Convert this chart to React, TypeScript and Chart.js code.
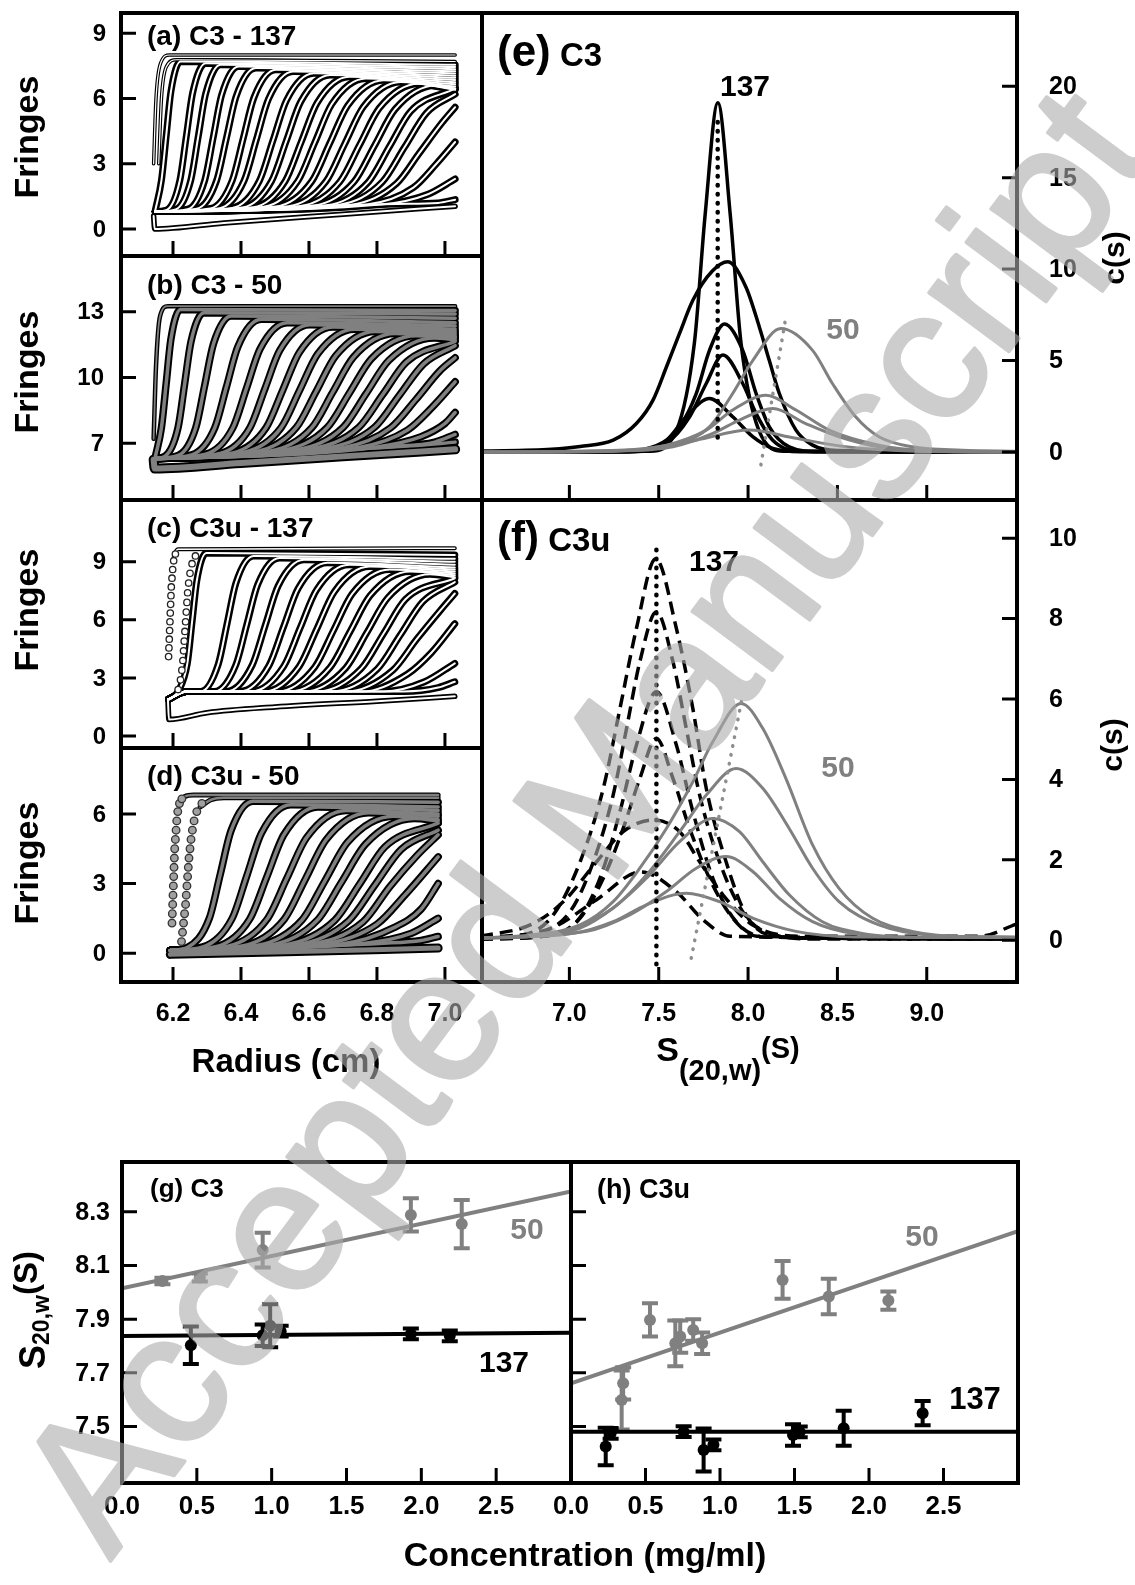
import React, { useEffect, useRef } from "react";
import { Chart, registerables } from "chart.js";

Chart.register(...registerables);

type Pt = [number, number];

const PAGE_W = 1135;
const PAGE_H = 1585;
const FONT = "'Liberation Sans', Arial, Helvetica, sans-serif";
const BLACK = "#000000";
const GREY = "#808080";
const DOT_GREY = "#8e8e8e";

// ---------------- tick values ----------------
const RADIUS_TICKS = [6.2, 6.4, 6.6, 6.8, 7.0];
const FRINGE_TICKS_A = [0, 3, 6, 9];
const FRINGE_TICKS_B = [7, 10, 13];
const FRINGE_TICKS_C = [0, 3, 6, 9];
const FRINGE_TICKS_D = [0, 3, 6];
const SED_TICKS = [7.0, 7.5, 8.0, 8.5, 9.0];
const CS_TICKS_E = [0, 5, 10, 15, 20];
const CS_TICKS_F = [0, 2, 4, 6, 8, 10];
const CONC_TICKS = [0.5, 1.0, 1.5, 2.0, 2.5];
const CONC_LABELS = [0.0, 0.5, 1.0, 1.5, 2.0, 2.5];
const S20W_TICKS = [7.5, 7.7, 7.9, 8.1, 8.3];

// ---------------- (a) C3 - 137 : fringes vs radius ----------------
const A_BASELINE: Pt[] = [[6.143, 0.6], [6.146, 0.0], [6.35, 0.28], [6.7, 0.68], [7.03, 1.05]];
const A_EARLY: Pt[][] = [
  [[6.143, 3.0], [6.15, 6.0], [6.163, 7.6], [6.19, 8.0], [7.03, 8.0]],
  [[6.158, 3.0], [6.166, 6.0], [6.18, 7.45], [6.21, 7.78], [7.03, 7.7]],
];
const A_SCANS: Pt[][] = [
  [[6.148, 0.87], [6.166, 2.24], [6.18, 4.29], [6.194, 6.33], [6.222, 7.7], [7.03, 7.55]],
  [[6.148, 0.8], [6.182, 0.88], [6.22, 2.23], [6.239, 4.25], [6.258, 6.27], [6.296, 7.62], [7.03, 7.45]],
  [[6.148, 0.8], [6.208, 0.9], [6.252, 2.23], [6.274, 4.23], [6.296, 6.22], [6.34, 7.55], [7.03, 7.35]],
  [[6.148, 0.8], [6.243, 0.91], [6.293, 2.22], [6.318, 4.19], [6.343, 6.16], [6.393, 7.47], [7.03, 7.25]],
  [[6.148, 0.8], [6.27, 0.93], [6.328, 2.22], [6.357, 4.17], [6.386, 6.11], [6.444, 7.4], [7.03, 7.15]],
  [[6.148, 0.8], [6.31, 0.94], [6.374, 2.22], [6.406, 4.13], [6.438, 6.04], [6.502, 7.32], [7.03, 7.05]],
  [[6.148, 0.8], [6.337, 0.96], [6.409, 2.22], [6.445, 4.1], [6.481, 5.98], [6.553, 7.24], [7.03, 6.95]],
  [[6.148, 0.8], [6.374, 0.97], [6.454, 2.21], [6.494, 4.07], [6.534, 5.92], [6.614, 7.16], [7.03, 6.85]],
  [[6.148, 0.8], [6.404, 0.99], [6.49, 2.21], [6.533, 4.04], [6.576, 5.86], [6.662, 7.08], [7.03, 6.75]],
  [[6.148, 0.8], [6.436, 1.0], [6.53, 2.2], [6.577, 4.0], [6.624, 5.8], [6.718, 7.0], [7.03, 6.65]],
  [[6.148, 0.8], [6.467, 1.02], [6.567, 2.2], [6.617, 3.97], [6.667, 5.74], [6.767, 6.92], [7.03, 6.55]],
  [[6.148, 0.8], [6.502, 1.03], [6.608, 2.19], [6.661, 3.94], [6.714, 5.68], [6.82, 6.84], [7.03, 6.45]],
  [[6.148, 0.8], [6.54, 1.05], [6.65, 2.19], [6.705, 3.91], [6.76, 5.62], [6.87, 6.76], [7.03, 6.4]],
  [[6.148, 0.8], [6.575, 1.06], [6.691, 2.18], [6.749, 3.87], [6.807, 5.56], [6.923, 6.68], [7.03, 6.45]],
  [[6.148, 0.8], [6.613, 1.08], [6.733, 2.18], [6.793, 3.84], [6.853, 5.5], [6.973, 6.6], [7.03, 6.45]],
  [[6.148, 0.8], [6.651, 1.09], [6.775, 2.17], [6.837, 3.8], [6.899, 5.41], [7.03, 6.45]],
  [[6.148, 0.8], [6.686, 1.11], [6.816, 2.17], [6.881, 3.76], [6.946, 5.34], [7.03, 6.2]],
  [[6.148, 0.8], [6.724, 1.12], [6.858, 2.1], [6.925, 3.5], [6.992, 4.9], [7.03, 5.6]],
  [[6.148, 0.8], [6.77, 1.13], [6.907, 1.9], [6.975, 3.0], [7.03, 4.0]],
  [[6.148, 0.8], [6.82, 1.14], [6.95, 1.6], [7.03, 2.3]],
  [[6.148, 0.8], [6.86, 1.15], [6.98, 1.2], [7.03, 1.35]],
];

// ---------------- (b) C3 - 50 ----------------
const B_BASELINE: Pt[] = [[6.143, 6.25], [6.146, 5.85], [6.4, 6.1], [6.7, 6.4], [7.03, 6.72]];
const B_EARLY: Pt[][] = [
  [[6.143, 7.2], [6.15, 10.5], [6.162, 12.8], [6.185, 13.25], [7.03, 13.25]],
];
const B_SCANS: Pt[][] = [
  [[6.148, 6.38], [6.166, 7.72], [6.18, 9.74], [6.194, 11.76], [6.222, 13.1], [7.03, 13.05]],
  [[6.148, 6.3], [6.177, 6.41], [6.215, 7.72], [6.234, 9.68], [6.253, 11.64], [6.291, 12.95], [7.03, 12.9]],
  [[6.148, 6.3], [6.215, 6.44], [6.267, 7.71], [6.293, 9.62], [6.319, 11.53], [6.371, 12.8], [7.03, 12.7]],
  [[6.148, 6.3], [6.255, 6.47], [6.323, 7.71], [6.357, 9.56], [6.391, 11.41], [6.459, 12.65], [7.03, 12.5]],
  [[6.148, 6.3], [6.296, 6.5], [6.376, 7.7], [6.416, 9.5], [6.456, 11.3], [6.536, 12.5], [7.03, 12.35]],
  [[6.148, 6.3], [6.338, 6.53], [6.426, 7.7], [6.47, 9.47], [6.514, 11.23], [6.602, 12.4], [7.03, 12.2]],
  [[6.148, 6.3], [6.376, 6.56], [6.474, 7.71], [6.523, 9.43], [6.572, 11.15], [6.67, 12.3], [7.03, 12.1]],
  [[6.148, 6.3], [6.41, 6.59], [6.518, 7.71], [6.572, 9.4], [6.626, 11.08], [6.734, 12.2], [7.03, 12.0]],
  [[6.148, 6.3], [6.447, 6.62], [6.563, 7.72], [6.621, 9.36], [6.679, 11.0], [6.795, 12.1], [7.03, 11.9]],
  [[6.148, 6.3], [6.487, 6.65], [6.609, 7.72], [6.67, 9.33], [6.731, 10.93], [6.853, 12.0], [7.03, 11.85]],
  [[6.148, 6.3], [6.524, 6.68], [6.654, 7.72], [6.719, 9.29], [6.784, 10.86], [6.914, 11.9], [7.03, 11.8]],
  [[6.148, 6.3], [6.567, 6.71], [6.701, 7.73], [6.768, 9.26], [6.835, 10.78], [6.969, 11.8], [7.03, 11.72]],
  [[6.148, 6.3], [6.607, 6.74], [6.747, 7.73], [6.817, 9.22], [6.887, 10.71], [7.03, 11.65]],
  [[6.148, 6.3], [6.65, 6.77], [6.794, 7.74], [6.866, 9.19], [6.938, 10.63], [7.03, 11.45]],
  [[6.148, 6.3], [6.7, 6.8], [6.84, 7.7], [6.915, 9.0], [6.985, 10.3], [7.03, 10.9]],
  [[6.148, 6.3], [6.75, 6.82], [6.89, 7.6], [6.96, 8.6], [7.03, 9.8]],
  [[6.148, 6.3], [6.8, 6.83], [6.93, 7.3], [7.0, 7.9], [7.03, 8.4]],
  [[6.148, 6.3], [6.85, 6.85], [6.97, 7.05], [7.03, 7.4]],
  [[6.148, 6.3], [6.9, 6.88], [7.03, 7.05]],
];

// ---------------- (c) C3u - 137 ----------------
const C_BASELINE: Pt[] = [[6.185, 1.9], [6.188, 0.85], [6.3, 1.2], [6.5, 1.5], [6.8, 1.8], [7.029, 2.05]];
const C_EARLY: Pt[][] = [
  [[6.2, 9.1], [6.206, 9.45], [6.215, 9.65], [7.029, 9.7]],
];
const C_EARLY_POINTS: Pt[] = [
  [6.187, 4.1], [6.188, 4.55], [6.189, 5.0], [6.19, 5.45], [6.191, 5.9], [6.192, 6.35], [6.193, 6.8], [6.194, 7.25], [6.195, 7.7], [6.197, 8.15], [6.199, 8.6], [6.202, 9.05], [6.207, 9.4],
  [6.215, 2.4], [6.222, 2.9], [6.226, 3.4], [6.229, 3.9], [6.231, 4.4], [6.233, 4.9], [6.235, 5.4], [6.237, 5.9], [6.239, 6.4], [6.241, 6.9], [6.243, 7.4], [6.246, 7.9], [6.25, 8.4], [6.256, 8.9], [6.266, 9.3],
];
const C_SCANS: Pt[][] = [
  [[6.187, 1.9], [6.215, 2.3], [6.242, 3.73], [6.256, 5.88], [6.27, 8.02], [6.298, 9.45], [7.029, 9.35]],
  [[6.187, 1.9], [6.24, 2.3], [6.281, 2.3], [6.333, 3.7], [6.359, 5.8], [6.385, 7.9], [6.437, 9.3], [7.029, 9.15]],
  [[6.187, 1.9], [6.24, 2.3], [6.321, 2.3], [6.385, 3.68], [6.417, 5.75], [6.449, 7.82], [6.513, 9.2], [7.029, 9.0]],
  [[6.187, 1.9], [6.24, 2.3], [6.357, 2.3], [6.433, 3.66], [6.471, 5.7], [6.509, 7.74], [6.585, 9.1], [7.029, 8.85]],
  [[6.187, 1.9], [6.24, 2.3], [6.396, 2.3], [6.482, 3.63], [6.525, 5.63], [6.568, 7.62], [6.654, 8.95], [7.029, 8.7]],
  [[6.187, 1.9], [6.24, 2.3], [6.43, 2.3], [6.526, 3.61], [6.574, 5.58], [6.622, 7.54], [6.718, 8.85], [7.029, 8.6]],
  [[6.187, 1.9], [6.24, 2.3], [6.467, 2.3], [6.571, 3.59], [6.623, 5.53], [6.675, 7.46], [6.779, 8.75], [7.029, 8.5]],
  [[6.187, 1.9], [6.24, 2.3], [6.507, 2.3], [6.617, 3.56], [6.672, 5.45], [6.727, 7.34], [6.837, 8.6], [7.029, 8.4]],
  [[6.187, 1.9], [6.24, 2.3], [6.544, 2.3], [6.662, 3.54], [6.721, 5.4], [6.78, 7.26], [6.898, 8.5], [7.029, 8.3]],
  [[6.187, 1.9], [6.24, 2.3], [6.584, 2.3], [6.708, 3.51], [6.77, 5.33], [6.832, 7.14], [6.956, 8.35], [7.029, 8.2]],
  [[6.187, 1.9], [6.24, 2.3], [6.624, 2.3], [6.754, 3.49], [6.819, 5.28], [6.884, 7.06], [7.029, 8.15]],
  [[6.187, 1.9], [6.24, 2.3], [6.667, 2.3], [6.801, 3.46], [6.868, 5.2], [6.935, 6.94], [7.029, 7.95]],
  [[6.187, 1.9], [6.24, 2.3], [6.707, 2.3], [6.847, 3.4], [6.917, 5.0], [6.987, 6.5], [7.029, 7.36]],
  [[6.187, 1.9], [6.24, 2.3], [6.76, 2.3], [6.89, 3.2], [6.96, 4.3], [7.029, 5.8]],
  [[6.187, 1.9], [6.24, 2.3], [6.82, 2.3], [6.94, 2.8], [7.029, 3.75]],
  [[6.187, 1.9], [6.24, 2.3], [6.88, 2.3], [6.98, 2.5], [7.029, 2.8]],
];

// ---------------- (d) C3u - 50 ----------------
const D_BASELINE: Pt[] = [[6.192, -0.05], [6.5, 0.05], [6.98, 0.22]];
const D_EARLY: Pt[][] = [
  [[6.222, 6.5], [6.235, 6.75], [6.26, 6.82], [6.98, 6.82]],
  [[6.28, 6.3], [6.31, 6.6], [6.35, 6.7], [6.98, 6.7]],
];
const D_EARLY_POINTS: Pt[] = [
  [6.197, 1.3], [6.198, 1.7], [6.199, 2.1], [6.2, 2.5], [6.201, 2.9], [6.202, 3.3], [6.203, 3.7], [6.204, 4.1], [6.205, 4.5], [6.207, 4.9], [6.209, 5.3], [6.211, 5.7], [6.214, 6.1], [6.219, 6.45], [6.226, 6.65],
  [6.225, 0.5], [6.228, 0.9], [6.231, 1.3], [6.234, 1.7], [6.237, 2.1], [6.239, 2.5], [6.241, 2.9], [6.243, 3.3], [6.245, 3.7], [6.247, 4.1], [6.25, 4.5], [6.253, 4.9], [6.257, 5.3], [6.262, 5.7], [6.27, 6.1], [6.285, 6.45],
];
const D_SCANS: Pt[][] = [
  [[6.192, 0.12], [6.243, 0.25], [6.307, 1.51], [6.339, 3.4], [6.371, 5.29], [6.435, 6.55], [6.98, 6.5]],
  [[6.192, 0.12], [6.288, 0.27], [6.374, 1.5], [6.417, 3.33], [6.46, 5.17], [6.546, 6.4], [6.98, 6.3]],
  [[6.192, 0.12], [6.326, 0.28], [6.426, 1.48], [6.476, 3.29], [6.526, 5.1], [6.626, 6.3], [6.98, 6.15]],
  [[6.192, 0.12], [6.361, 0.3], [6.477, 1.47], [6.535, 3.23], [6.593, 4.98], [6.709, 6.15], [6.98, 6.0]],
  [[6.192, 0.12], [6.403, 0.31], [6.527, 1.46], [6.589, 3.18], [6.651, 4.9], [6.775, 6.05], [6.98, 5.9]],
  [[6.192, 0.12], [6.446, 0.33], [6.58, 1.44], [6.647, 3.12], [6.714, 4.79], [6.848, 5.9], [6.98, 5.75]],
  [[6.192, 0.12], [6.483, 0.34], [6.625, 1.43], [6.696, 3.07], [6.767, 4.71], [6.909, 5.8], [6.98, 5.7]],
  [[6.192, 0.12], [6.528, 0.36], [6.676, 1.42], [6.75, 3.0], [6.824, 4.59], [6.98, 5.6]],
  [[6.192, 0.12], [6.563, 0.37], [6.717, 1.4], [6.794, 2.94], [6.871, 4.47], [6.98, 5.3]],
  [[6.192, 0.12], [6.601, 0.39], [6.759, 1.35], [6.838, 2.87], [6.917, 4.2], [6.98, 5.1]],
  [[6.192, 0.12], [6.64, 0.4], [6.8, 1.25], [6.882, 2.5], [6.98, 4.15]],
  [[6.192, 0.12], [6.7, 0.41], [6.85, 1.1], [6.93, 1.9], [6.98, 3.0]],
  [[6.192, 0.12], [6.76, 0.42], [6.9, 0.85], [6.98, 1.5]],
  [[6.192, 0.12], [6.82, 0.43], [6.93, 0.55], [6.98, 0.72]],
];

// ---------------- (e) C3 c(s) ----------------
const E_C3_137: Pt[][] = [
  [[6.5, 0], [7.45, 0.05], [7.6, 1.2], [7.7, 6], [7.76, 13], [7.831, 19.1], [7.9, 13], [7.96, 6], [8.06, 1.2], [8.2, 0.05], [9.5, 0]],
  [[6.5, 0.05], [6.9, 0.15], [7.06, 0.3], [7.245, 0.65], [7.375, 1.56], [7.468, 2.84], [7.543, 4.65], [7.617, 6.5], [7.691, 8.3], [7.8, 9.9], [7.887, 10.4], [7.989, 9.0], [8.063, 6.84], [8.119, 5.0], [8.175, 3.2], [8.268, 1.2], [8.361, 0.38], [8.5, 0.08], [9.5, 0.02]],
  [[6.5, 0], [7.3, 0.02], [7.506, 0.38], [7.617, 1.38], [7.71, 3.2], [7.784, 5.56], [7.868, 7.0], [7.97, 5.56], [8.045, 3.2], [8.119, 1.38], [8.23, 0.29], [8.4, 0.02], [9.5, 0]],
  [[6.5, 0], [7.35, 0.02], [7.543, 0.47], [7.673, 1.93], [7.766, 3.75], [7.859, 5.3], [7.97, 3.75], [8.045, 2.1], [8.138, 0.65], [8.3, 0.05], [9.5, 0]],
  [[6.5, 0], [7.3, 0.02], [7.394, 0.1], [7.543, 0.65], [7.654, 1.93], [7.784, 2.93], [7.914, 1.93], [8.026, 0.84], [8.138, 0.2], [8.3, 0.02], [9.5, 0]],
];
const E_C3_50: Pt[][] = [
  [[6.5, 0], [7.0, 0.03], [7.338, 0.1], [7.617, 0.47], [7.784, 1.38], [7.914, 3.2], [8.026, 5.0], [8.184, 6.75], [8.361, 5.56], [8.472, 3.75], [8.602, 1.93], [8.732, 0.84], [8.918, 0.29], [9.197, 0.1], [9.5, 0.05]],
  [[6.5, 0], [7.2, 0.05], [7.543, 0.38], [7.766, 1.2], [7.914, 2.3], [8.1, 3.1], [8.268, 2.3], [8.454, 1.2], [8.732, 0.38], [9.0, 0.08], [9.5, 0]],
  [[6.5, 0], [7.25, 0.05], [7.58, 0.29], [7.803, 1.02], [7.952, 1.75], [8.138, 2.38], [8.323, 1.56], [8.509, 0.84], [8.732, 0.29], [9.0, 0.06], [9.5, 0]],
  [[6.5, 0], [7.1, 0.05], [7.431, 0.2], [7.71, 0.65], [8.007, 1.2], [8.268, 0.75], [8.546, 0.29], [8.9, 0.06], [9.5, 0]],
];
const E_PEAK_137: Pt[] = [[7.83, 0.8], [7.83, 18.2]];
const E_PEAK_50: Pt[] = [[8.072, -0.7], [8.212, 7.4]];

// ---------------- (f) C3u c(s) ----------------
const F_C3U_137: Pt[][] = [
  [[6.5, 0.05], [6.743, 0.13], [6.91, 0.63], [7.06, 1.95], [7.19, 3.78], [7.283, 5.76], [7.375, 7.75], [7.483, 9.49], [7.599, 7.75], [7.691, 5.76], [7.766, 3.78], [7.877, 1.95], [7.989, 0.63], [8.119, 0.13], [8.4, 0.05], [9.5, 0.05]],
  [[6.5, 0.03], [6.8, 0.15], [7.004, 0.71], [7.134, 1.95], [7.245, 3.61], [7.32, 5.27], [7.394, 6.92], [7.487, 8.17], [7.58, 6.92], [7.654, 5.27], [7.729, 3.61], [7.84, 1.95], [7.97, 0.71], [8.1, 0.2], [8.4, 0.03], [9.5, 0.03]],
  [[6.5, 0.03], [6.85, 0.1], [7.041, 0.46], [7.171, 1.54], [7.283, 3.2], [7.375, 4.85], [7.487, 6.18], [7.599, 4.85], [7.691, 3.2], [7.803, 1.54], [7.933, 0.46], [8.1, 0.08], [9.5, 0.03]],
  [[6.5, 0.03], [6.9, 0.12], [7.06, 0.55], [7.19, 1.54], [7.301, 2.78], [7.394, 4.02], [7.487, 5.02], [7.58, 4.02], [7.673, 2.78], [7.784, 1.54], [7.914, 0.55], [8.05, 0.1], [9.5, 0.03]],
  [[6.5, 0.1], [6.781, 0.38], [6.967, 0.96], [7.152, 1.95], [7.301, 2.7], [7.468, 2.99], [7.617, 2.7], [7.729, 1.95], [7.859, 1.13], [8.026, 0.38], [8.3, 0.1], [9.3, 0.1], [9.5, 0.4]],
  [[6.5, 0.05], [6.9, 0.3], [7.15, 1.0], [7.4, 1.7], [7.6, 1.2], [7.75, 0.5], [7.9, 0.1], [9.5, 0.03]],
];
const F_C3U_50: Pt[][] = [
  [[6.5, 0.05], [6.781, 0.13], [7.06, 0.38], [7.245, 0.96], [7.394, 1.79], [7.543, 2.78], [7.691, 3.94], [7.803, 4.94], [7.961, 5.89], [8.082, 5.27], [8.212, 4.02], [8.361, 2.37], [8.509, 1.29], [8.695, 0.55], [8.918, 0.22], [9.197, 0.09], [9.5, 0.08]],
  [[6.5, 0.05], [6.8, 0.1], [7.022, 0.3], [7.245, 0.8], [7.431, 1.62], [7.617, 2.7], [7.766, 3.61], [7.933, 4.27], [8.082, 3.78], [8.23, 2.78], [8.361, 1.79], [8.509, 0.96], [8.732, 0.38], [9.01, 0.13], [9.5, 0.07]],
  [[6.5, 0.05], [6.85, 0.12], [7.06, 0.3], [7.245, 0.8], [7.431, 1.54], [7.617, 2.45], [7.803, 3.03], [7.952, 2.7], [8.082, 1.95], [8.23, 1.13], [8.416, 0.46], [8.639, 0.17], [9.0, 0.07], [9.5, 0.07]],
  [[6.5, 0.05], [7.097, 0.22], [7.338, 0.63], [7.543, 1.21], [7.71, 1.79], [7.877, 2.08], [8.026, 1.71], [8.175, 1.04], [8.361, 0.46], [8.584, 0.17], [9.0, 0.07], [9.5, 0.07]],
  [[6.5, 0.05], [7.022, 0.17], [7.245, 0.46], [7.431, 0.88], [7.654, 1.17], [7.84, 0.96], [8.026, 0.55], [8.268, 0.22], [8.6, 0.08], [9.5, 0.07]],
];
const F_PEAK_137: Pt[] = [[7.487, -0.6], [7.487, 9.85]];
const F_PEAK_50: Pt[] = [[7.682, -0.45], [7.97, 6.1]];

// ---------------- (g) C3 : s20,w vs concentration ----------------
const G_C3_137_CONC = [0.46, 0.94, 0.99, 1.06, 1.93, 2.19];
const G_C3_137_S = [7.803, 7.84, 7.875, 7.855, 7.845, 7.838];
const G_C3_137_ERR = [0.07, 0.04, 0.08, 0.02, 0.02, 0.02];
const G_C3_137_FIT: Pt[] = [[0, 7.837], [3.0, 7.849]];
const G_C3_50_CONC = [0.27, 0.52, 0.94, 1.93, 2.27];
const G_C3_50_S = [8.042, 8.055, 8.157, 8.288, 8.254];
const G_C3_50_ERR = [0.012, 0.015, 0.065, 0.062, 0.09];
const G_C3_50_FIT: Pt[] = [[0, 8.015], [3.0, 8.375]];

// ---------------- (h) C3u ----------------
const H_C3U_137_CONC = [0.233, 0.266, 0.756, 0.89, 0.956, 1.49, 1.535, 1.83, 2.36];
const H_C3U_137_S = [7.426, 7.475, 7.481, 7.413, 7.432, 7.469, 7.48, 7.494, 7.55];
const H_C3U_137_ERR = [0.07, 0.02, 0.02, 0.08, 0.02, 0.04, 0.02, 0.065, 0.045];
const H_C3U_137_FIT: Pt[] = [[0, 7.481], [3.0, 7.481]];
const H_C3U_50_CONC = [0.34, 0.35, 0.53, 0.7, 0.733, 0.82, 0.88, 1.42, 1.73, 2.13];
const H_C3U_50_S = [7.599, 7.661, 7.897, 7.81, 7.835, 7.86, 7.81, 8.046, 7.984, 7.969];
const H_C3U_50_ERR = [0.11, 0.06, 0.062, 0.085, 0.06, 0.04, 0.04, 0.07, 0.066, 0.034];
const H_C3U_50_FIT: Pt[] = [[0, 7.661], [3.0, 8.228]];

// ================= helpers =================
type Box = { l: number; t: number; r: number; b: number };
interface PanelSpec {
  box: Box;
  x: [number, number];
  y: [number, number];
  datasets: any[];
  before?: (c: Chart) => void;
  after: (c: Chart) => void;
}

const toXY = (pts: Pt[]) => pts.map(([x, y]) => ({ x, y }));

function lineDs(pts: Pt[], color: string, width: number, order: number, extra: any = {}) {
  return {
    data: toXY(pts),
    showLine: true,
    borderColor: color,
    backgroundColor: color,
    borderWidth: width,
    pointRadius: 0,
    pointHoverRadius: 0,
    cubicInterpolationMode: "monotone",
    fill: false,
    order,
    borderCapStyle: "round",
    borderJoinStyle: "round",
    ...extra,
  };
}

function tubes(curves: Pt[][], outer: string, ow: number, inner: string, iw: number) {
  const res: any[] = [];
  curves.forEach((c) => {
    res.push(lineDs(c, outer, ow, 3));
    res.push(lineDs(c, inner, iw, 2));
  });
  return res;
}

function circlesDs(pts: Pt[], fillColor: string, edge: string, r: number) {
  return {
    data: toXY(pts),
    showLine: false,
    pointRadius: r,
    pointHoverRadius: r,
    pointBackgroundColor: fillColor,
    pointBorderColor: edge,
    pointBorderWidth: 1.3,
    order: 0,
  };
}

function pointsDs(xs: number[], ys: number[], errs: number[], color: string, r: number) {
  return {
    data: xs.map((x, i) => ({ x, y: ys[i] })),
    errs,
    showLine: false,
    pointRadius: r,
    pointHoverRadius: r,
    pointBackgroundColor: color,
    pointBorderColor: color,
    pointBorderWidth: 0,
    order: 1,
  };
}

function frame(c: Chart) {
  const { ctx, chartArea: a } = c;
  ctx.save();
  ctx.strokeStyle = BLACK;
  ctx.lineWidth = 4;
  ctx.strokeRect(a.left, a.top, a.right - a.left, a.bottom - a.top);
  ctx.restore();
}

function ticks(c: Chart, axis: "x" | "y", vals: number[], side: "left" | "right" | "bottom", len = 15) {
  const { ctx, chartArea: a } = c;
  const s = c.scales[axis];
  ctx.save();
  ctx.strokeStyle = BLACK;
  ctx.lineWidth = 3;
  ctx.beginPath();
  vals.forEach((v) => {
    const p = s.getPixelForValue(v);
    if (side === "bottom") {
      ctx.moveTo(p, a.bottom);
      ctx.lineTo(p, a.bottom - len);
    } else if (side === "left") {
      ctx.moveTo(a.left, p);
      ctx.lineTo(a.left + len, p);
    } else {
      ctx.moveTo(a.right, p);
      ctx.lineTo(a.right - len, p);
    }
  });
  ctx.stroke();
  ctx.restore();
}

function yLabels(c: Chart, vals: number[], x: number, align: CanvasTextAlign, size: number, digits = 0) {
  const ctx = c.ctx;
  const s = c.scales.y;
  ctx.save();
  ctx.font = `bold ${size}px ${FONT}`;
  ctx.fillStyle = BLACK;
  ctx.textAlign = align;
  ctx.textBaseline = "middle";
  vals.forEach((v) => ctx.fillText(v.toFixed(digits), x, s.getPixelForValue(v) + 1));
  ctx.restore();
}

function xLabels(c: Chart, vals: number[], y: number, size: number, digits = 1) {
  const ctx = c.ctx;
  const s = c.scales.x;
  ctx.save();
  ctx.font = `bold ${size}px ${FONT}`;
  ctx.fillStyle = BLACK;
  ctx.textAlign = "center";
  ctx.textBaseline = "middle";
  vals.forEach((v) => ctx.fillText(v.toFixed(digits), s.getPixelForValue(v), y));
  ctx.restore();
}

function text(ctx: CanvasRenderingContext2D, s: string, x: number, y: number, size: number, color = BLACK, align: CanvasTextAlign = "center", rot = 0, weight = "bold") {
  ctx.save();
  ctx.translate(x, y);
  ctx.rotate(rot);
  ctx.font = `${weight} ${size}px ${FONT}`;
  ctx.fillStyle = color;
  ctx.textAlign = align;
  ctx.textBaseline = "middle";
  ctx.fillText(s, 0, 0);
  ctx.restore();
}

type Part = { t: string; size: number; dy: number };
function rich(ctx: CanvasRenderingContext2D, parts: Part[], x: number, y: number, align: "left" | "center", rot = 0, color = BLACK) {
  ctx.save();
  ctx.translate(x, y);
  ctx.rotate(rot);
  ctx.fillStyle = color;
  ctx.textAlign = "left";
  ctx.textBaseline = "alphabetic";
  const widths = parts.map((p) => {
    ctx.font = `bold ${p.size}px ${FONT}`;
    return ctx.measureText(p.t).width;
  });
  const total = widths.reduce((a, b) => a + b, 0);
  let cx = align === "center" ? -total / 2 : 0;
  parts.forEach((p, i) => {
    ctx.font = `bold ${p.size}px ${FONT}`;
    ctx.fillText(p.t, cx, p.dy);
    cx += widths[i];
  });
  ctx.restore();
}

function errorBars(c: Chart) {
  const { ctx, chartArea: a } = c;
  const xs = c.scales.x;
  const ys = c.scales.y;
  ctx.save();
  ctx.beginPath();
  ctx.rect(a.left, a.top, a.right - a.left, a.bottom - a.top);
  ctx.clip();
  c.data.datasets.forEach((ds: any) => {
    if (!ds.errs) return;
    ctx.strokeStyle = ds.pointBackgroundColor;
    ctx.lineWidth = 4;
    ds.data.forEach((d: any, i: number) => {
      const e = ds.errs[i];
      const x = xs.getPixelForValue(d.x);
      const y1 = ys.getPixelForValue(d.y - e);
      const y2 = ys.getPixelForValue(d.y + e);
      ctx.beginPath();
      ctx.moveTo(x, y1);
      ctx.lineTo(x, y2);
      ctx.moveTo(x - 8, y1);
      ctx.lineTo(x + 8, y1);
      ctx.moveTo(x - 8, y2);
      ctx.lineTo(x + 8, y2);
      ctx.stroke();
    });
  });
  ctx.restore();
}

function watermark(ctx: CanvasRenderingContext2D) {
  const off = document.createElement("canvas");
  off.width = PAGE_W;
  off.height = PAGE_H;
  const o = off.getContext("2d");
  if (!o) return;
  o.translate(592, 826);
  o.rotate((-53.4 * Math.PI) / 180);
  o.font = `188px ${FONT}`;
  o.textAlign = "center";
  o.textBaseline = "middle";
  o.fillStyle = "rgb(172,172,172)";
  o.strokeStyle = "rgb(172,172,172)";
  o.lineWidth = 3.5;
  o.lineJoin = "round";
  o.fillText("Accepted Manuscript", 0, 0);
  o.strokeText("Accepted Manuscript", 0, 0);
  ctx.save();
  ctx.globalAlpha = 0.6;
  ctx.drawImage(off, 0, 0);
  ctx.restore();
}

const fringeLabel = (c: Chart, y: number) => text(c.ctx, "Fringes", 29, y, 34, BLACK, "center", -Math.PI / 2);

// ================= panels =================
const RAD_RANGE: [number, number] = [6.047, 7.109];
const SED_RANGE: [number, number] = [6.511, 9.505];
const CONC_RANGE: [number, number] = [0, 3.0];
const S20_RANGE: [number, number] = [7.29, 8.485];

const PANELS: PanelSpec[] = [
  {
    box: { l: 121, t: 13, r: 482, b: 256 },
    x: RAD_RANGE,
    y: [-1.24, 9.93],
    datasets: [
      ...tubes([A_BASELINE], BLACK, 5.5, "#ffffff", 2),
      ...tubes(A_EARLY, BLACK, 3.5, "#ffffff", 1.2),
      ...tubes(A_SCANS, BLACK, 7, "#ffffff", 2),
    ],
    after: (c) => {
      frame(c);
      ticks(c, "y", FRINGE_TICKS_A, "left");
      ticks(c, "x", RADIUS_TICKS, "bottom");
      yLabels(c, FRINGE_TICKS_A, 106, "right", 24);
      rich(c.ctx, [{ t: "(a) C3 - 137", size: 28, dy: 0 }], 147, 45, "left");
      fringeLabel(c, 137);
    },
  },
  {
    box: { l: 121, t: 256, r: 482, b: 500 },
    x: RAD_RANGE,
    y: [4.41, 15.54],
    datasets: [
      ...tubes([B_BASELINE], BLACK, 10, GREY, 6),
      ...tubes(B_EARLY, BLACK, 4.5, GREY, 1.8),
      ...tubes(B_SCANS, BLACK, 7.5, GREY, 3.5),
    ],
    after: (c) => {
      frame(c);
      ticks(c, "y", FRINGE_TICKS_B, "left");
      ticks(c, "x", RADIUS_TICKS, "bottom");
      yLabels(c, FRINGE_TICKS_B, 104, "right", 24);
      rich(c.ctx, [{ t: "(b) C3 - 50", size: 28, dy: 0 }], 147, 294, "left");
      fringeLabel(c, 372);
    },
  },
  {
    box: { l: 121, t: 500, r: 482, b: 748 },
    x: RAD_RANGE,
    y: [-0.62, 12.19],
    datasets: [
      ...tubes([C_BASELINE], BLACK, 5.5, "#ffffff", 2),
      ...tubes(C_EARLY, BLACK, 4, "#ffffff", 1.5),
      ...tubes(C_SCANS, BLACK, 7, "#ffffff", 2),
      circlesDs(C_EARLY_POINTS, "#ffffff", "#222222", 3.2),
    ],
    after: (c) => {
      frame(c);
      ticks(c, "y", FRINGE_TICKS_C, "left");
      ticks(c, "x", RADIUS_TICKS, "bottom");
      yLabels(c, FRINGE_TICKS_C, 106, "right", 24);
      rich(c.ctx, [{ t: "(c) C3u - 137", size: 28, dy: 0 }], 147, 537, "left");
      fringeLabel(c, 610);
    },
  },
  {
    box: { l: 121, t: 748, r: 482, b: 982 },
    x: RAD_RANGE,
    y: [-1.24, 8.84],
    datasets: [
      ...tubes([D_BASELINE], BLACK, 9, GREY, 5),
      ...tubes(D_EARLY, BLACK, 5, GREY, 2.5),
      ...tubes(D_SCANS, BLACK, 7.5, GREY, 3.5),
      circlesDs(D_EARLY_POINTS, "#a0a0a0", "#333333", 3.8),
    ],
    after: (c) => {
      frame(c);
      ticks(c, "y", FRINGE_TICKS_D, "left");
      ticks(c, "x", RADIUS_TICKS, "bottom");
      yLabels(c, FRINGE_TICKS_D, 106, "right", 24);
      xLabels(c, RADIUS_TICKS, 1014, 25);
      rich(c.ctx, [{ t: "(d) C3u - 50", size: 28, dy: 0 }], 147, 785, "left");
      fringeLabel(c, 863);
      text(c.ctx, "Radius (cm)", 286, 1063, 33);
    },
  },
  {
    box: { l: 482, t: 13, r: 1017, b: 500 },
    x: SED_RANGE,
    y: [-2.62, 24.0],
    datasets: [
      ...E_C3_137.map((c) => lineDs(c, BLACK, 3.5, 3)),
      ...E_C3_50.map((c) => lineDs(c, GREY, 3, 2)),
      lineDs(E_PEAK_137, BLACK, 4.5, 1, { cubicInterpolationMode: "default", borderDash: [0.5, 8.5] }),
      lineDs(E_PEAK_50, DOT_GREY, 3.5, 1, { cubicInterpolationMode: "default", borderDash: [0.5, 8.5] }),
    ],
    after: (c) => {
      frame(c);
      ticks(c, "y", CS_TICKS_E, "right");
      ticks(c, "x", SED_TICKS, "bottom");
      yLabels(c, CS_TICKS_E, 1049, "left", 25);
      rich(c.ctx, [{ t: "(e)", size: 44, dy: 0 }, { t: " C3", size: 33, dy: 0 }], 497, 66, "left");
      text(c.ctx, "137", 745, 88, 30);
      text(c.ctx, "50", 843, 331, 30, GREY);
      text(c.ctx, "c(s)", 1116, 258, 30, BLACK, "center", -Math.PI / 2);
    },
  },
  {
    box: { l: 482, t: 500, r: 1017, b: 982 },
    x: SED_RANGE,
    y: [-1.04, 10.95],
    datasets: [
      ...F_C3U_137.map((c) => lineDs(c, BLACK, 3.5, 3, { borderDash: [13, 7], borderCapStyle: "butt" })),
      ...F_C3U_50.map((c) => lineDs(c, GREY, 3, 2)),
      lineDs(F_PEAK_137, BLACK, 4.5, 1, { cubicInterpolationMode: "default", borderDash: [0.5, 8.5] }),
      lineDs(F_PEAK_50, DOT_GREY, 3.5, 1, { cubicInterpolationMode: "default", borderDash: [0.5, 8.5] }),
    ],
    after: (c) => {
      frame(c);
      ticks(c, "y", CS_TICKS_F, "right");
      ticks(c, "x", SED_TICKS, "bottom");
      yLabels(c, CS_TICKS_F, 1049, "left", 25);
      xLabels(c, SED_TICKS, 1014, 25);
      rich(c.ctx, [{ t: "(f)", size: 42, dy: 0 }, { t: " C3u", size: 33, dy: 0 }], 497, 551, "left");
      text(c.ctx, "137", 714, 563, 30);
      text(c.ctx, "50", 838, 769, 30, GREY);
      text(c.ctx, "c(s)", 1114, 745, 30, BLACK, "center", -Math.PI / 2);
      const ctx = c.ctx;
      ctx.save();
      ctx.fillStyle = BLACK;
      ctx.textAlign = "left";
      ctx.textBaseline = "alphabetic";
      const parts: Part[] = [
        { t: "S", size: 34, dy: 1061 },
        { t: "(20,w)", size: 29, dy: 1080 },
        { t: "(S)", size: 29, dy: 1058 },
      ];
      const ws = parts.map((p) => {
        ctx.font = `bold ${p.size}px ${FONT}`;
        return ctx.measureText(p.t).width;
      });
      let x0 = 728 - ws.reduce((a, b) => a + b, 0) / 2;
      parts.forEach((p, i) => {
        ctx.font = `bold ${p.size}px ${FONT}`;
        ctx.fillText(p.t, x0, p.dy);
        x0 += ws[i];
      });
      ctx.restore();
    },
  },
  {
    box: { l: 122, t: 1162, r: 571, b: 1483 },
    x: CONC_RANGE,
    y: S20_RANGE,
    datasets: [
      lineDs(G_C3_50_FIT, GREY, 4, 2, { cubicInterpolationMode: "default" }),
      lineDs(G_C3_137_FIT, BLACK, 4, 2, { cubicInterpolationMode: "default" }),
      pointsDs(G_C3_50_CONC, G_C3_50_S, G_C3_50_ERR, GREY, 6),
      pointsDs(G_C3_137_CONC, G_C3_137_S, G_C3_137_ERR, BLACK, 6),
    ],
    before: errorBars,
    after: (c) => {
      frame(c);
      ticks(c, "y", S20W_TICKS, "left");
      ticks(c, "x", CONC_TICKS, "bottom");
      yLabels(c, S20W_TICKS, 110, "right", 25, 1);
      xLabels(c, CONC_LABELS, 1507, 26);
      rich(c.ctx, [{ t: "(g)", size: 26, dy: 0 }, { t: " C3", size: 26, dy: 0 }], 150, 1197, "left");
      text(c.ctx, "50", 527, 1231, 30, GREY);
      text(c.ctx, "137", 504, 1364, 30);
      rich(
        c.ctx,
        [
          { t: "S", size: 36, dy: 0 },
          { t: "20,w", size: 23, dy: 4 },
          { t: "(S)", size: 33, dy: -8 },
        ],
        45,
        1310,
        "center",
        -Math.PI / 2
      );
      text(c.ctx, "Concentration (mg/ml)", 585, 1557, 34);
    },
  },
  {
    box: { l: 571, t: 1162, r: 1018, b: 1483 },
    x: CONC_RANGE,
    y: S20_RANGE,
    datasets: [
      lineDs(H_C3U_50_FIT, GREY, 4, 2, { cubicInterpolationMode: "default" }),
      lineDs(H_C3U_137_FIT, BLACK, 4, 2, { cubicInterpolationMode: "default" }),
      pointsDs(H_C3U_50_CONC, H_C3U_50_S, H_C3U_50_ERR, GREY, 6),
      pointsDs(H_C3U_137_CONC, H_C3U_137_S, H_C3U_137_ERR, BLACK, 6),
    ],
    before: errorBars,
    after: (c) => {
      frame(c);
      ticks(c, "y", S20W_TICKS, "left");
      ticks(c, "x", CONC_TICKS, "bottom");
      xLabels(c, CONC_LABELS, 1507, 26);
      rich(c.ctx, [{ t: "(h) C3u", size: 27, dy: 0 }], 597, 1198, "left");
      text(c.ctx, "50", 922, 1238, 30, GREY);
      text(c.ctx, "137", 975, 1400, 31);
      watermark(c.ctx);
    },
  },
];

function buildChart(canvas: HTMLCanvasElement, spec: PanelSpec) {
  const { box } = spec;
  return new Chart(canvas, {
    type: "scatter",
    data: { datasets: spec.datasets },
    options: {
      animation: false,
      responsive: false,
      maintainAspectRatio: false,
      devicePixelRatio: 1,
      events: [],
      layout: {
        padding: { left: box.l, top: box.t, right: PAGE_W - box.r, bottom: PAGE_H - box.b },
      },
      scales: {
        x: { type: "linear", min: spec.x[0], max: spec.x[1], display: false },
        y: { type: "linear", min: spec.y[0], max: spec.y[1], display: false },
      },
      plugins: { legend: { display: false }, tooltip: { enabled: false } },
    } as any,
    plugins: [
      {
        id: "decor",
        beforeDatasetsDraw: (c: Chart) => {
          if (spec.before) spec.before(c);
        },
        afterDraw: (c: Chart) => spec.after(c),
      },
    ],
  });
}

export default function App() {
  const refs = useRef<(HTMLCanvasElement | null)[]>([]);
  useEffect(() => {
    const charts = PANELS.map((spec, i) => buildChart(refs.current[i] as HTMLCanvasElement, spec));
    return () => charts.forEach((c) => c.destroy());
  }, []);
  return (
    <div
      style={{
        position: "absolute",
        left: 0,
        top: 0,
        width: PAGE_W,
        height: PAGE_H,
        background: "#ffffff",
        overflow: "hidden",
      }}
    >
      {PANELS.map((_, i) => (
        <canvas
          key={i}
          ref={(el) => {
            refs.current[i] = el;
          }}
          width={PAGE_W}
          height={PAGE_H}
          style={{ position: "absolute", left: 0, top: 0, width: PAGE_W, height: PAGE_H }}
        />
      ))}
    </div>
  );
}
